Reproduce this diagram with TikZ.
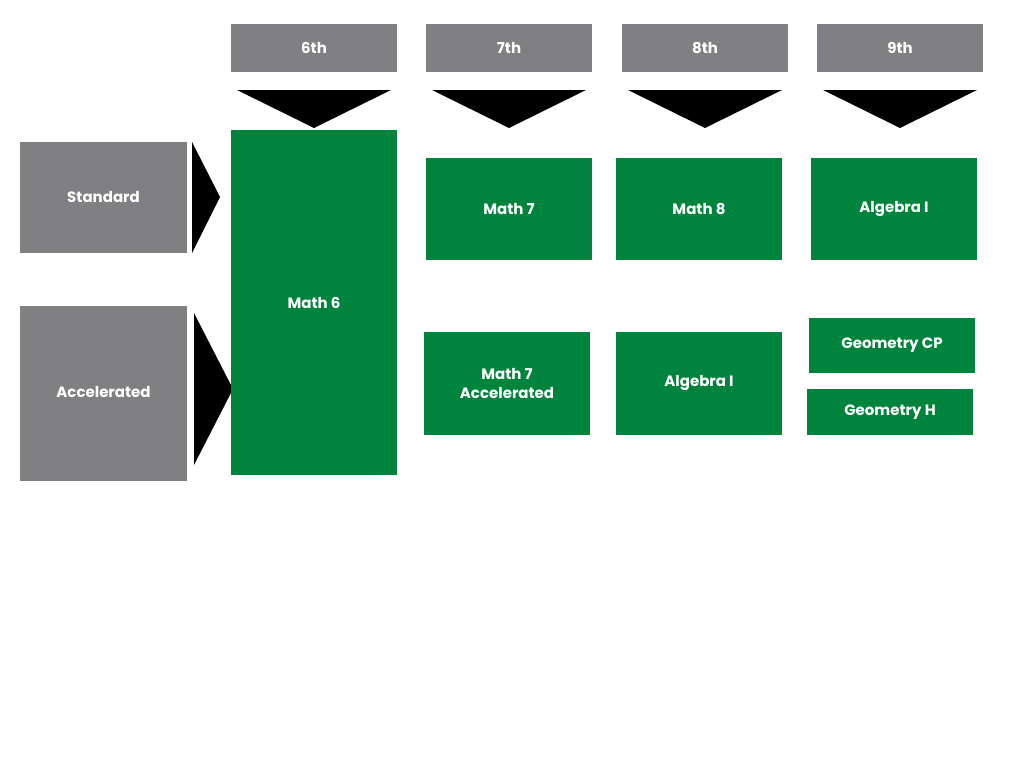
\documentclass[tikz,border=0pt]{standalone}
\usepackage{fontspec}
\setmainfont{Poppins}
\begin{document}
\begin{tikzpicture}[x=1pt,y=-1pt,
 g/.style={fill=gr,draw=none},
 lab/.style={text=white,font=\bfseries\fontsize{15}{19}\selectfont,align=center},
 tri/.style={fill=black,draw=none}]
\definecolor{gr}{HTML}{808083}
\definecolor{gn}{HTML}{00843D}
\useasboundingbox (0,0) rectangle (1024,768);
\fill[white] (0,0) rectangle (1024,768);
\newcommand\bx[6]{\fill[#6] (#1,#2) rectangle (#3,#4); \node[lab] (#5) at ({(#1+#3)/2},{(#2+#4)/2}) {\strut};}
\foreach \a/\b/\t/\n in {231/397/6th/h6,426/592/7th/h7,622/788/8th/h8,817/983/9th/h9}{
 \fill[gr] (\a,24) rectangle (\b,72);
 \node[lab] (\n) at ({(\a+\b)/2},48) {\t};
 \fill[tri] ({\a+6},90) -- ({\b-6},90) -- ({(\a+\b)/2},128) -- cycle;}
\fill[gr] (20,142) rectangle (187,253); \node[lab] (std) at (103.5,197) {Standard};
\fill[tri] (192,142) -- (192,253) -- (220,197) -- cycle;
\fill[gr] (20,306) rectangle (187,481); \node[lab] (acc) at (103.5,392) {Accelerated};
\fill[tri] (194,313) -- (194,465) -- (233,389) -- cycle;
\foreach \a/\b/\c/\d/\t/\n in {231/130/397/475/Math 6/m6,426/158/592/260/Math 7/m7,616/158/782/260/Math 8/m8,811/158/977/260/Algebra I/a1,424/332/590/435/{Math 7\\Accelerated}/m7a,616/332/782/435/Algebra I/a1b,809/318/975/373/Geometry CP/gcp,807/389/973/435/Geometry H/gh}{
 \fill[gn] (\a,\b) rectangle (\c,\d);
 \node[lab] (\n) at ({(\a+\c)/2},{(\b+\d)/2}) {\t};}
\end{tikzpicture}
\end{document}
